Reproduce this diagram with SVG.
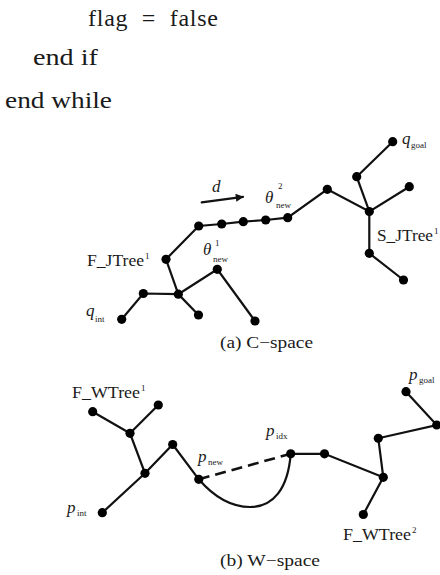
<svg xmlns="http://www.w3.org/2000/svg" width="440" height="575" viewBox="0 0 440 575">
<style>
.code{font-family:"Liberation Serif","DejaVu Serif",serif;font-size:24px;fill:#1a1a1a}
.lbl{font-family:"Liberation Serif","DejaVu Serif",serif;font-size:16px;fill:#1a1a1a}
.cap{font-family:"Liberation Serif","DejaVu Serif",serif;font-size:16px;fill:#1a1a1a}
.it{font-family:"Liberation Serif","DejaVu Serif",serif;font-style:italic;font-size:17px;fill:#1a1a1a}
.sub{font-family:"Liberation Serif","DejaVu Serif",serif;font-size:9px;fill:#1a1a1a}
.edge{stroke:#111;stroke-width:2.2;fill:none;stroke-linecap:round}
.dash{stroke:#111;stroke-width:2.6;fill:none;stroke-dasharray:11 6}
.node circle{fill:#000}
</style>
<defs>
<marker id="ah" viewBox="0 0 10 10" refX="9" refY="5" markerWidth="10" markerHeight="8" markerUnits="userSpaceOnUse" orient="auto">
<path d="M0,0 L10,5 L0,10 z" fill="#111"/>
</marker>
</defs>
<rect width="440" height="575" fill="#fff"/>
<g id="code">
<text class="code" x="88" y="26" textLength="130" lengthAdjust="spacing" xml:space="preserve">flag  =  false</text>
<text class="code" x="33" y="65" textLength="65" lengthAdjust="spacingAndGlyphs">end if</text>
<text class="code" x="5" y="108" textLength="107" lengthAdjust="spacingAndGlyphs">end while</text>
</g>
<g id="connectors">
<polyline class="edge" points="121.7,319.3 143.3,293.5 178.3,294.2 198.5,315"/>
<polyline class="edge" points="178.3,294.2 166,259.3 198.7,226 221.7,224 243.3,221.7 265.7,220 287.7,217.7 327.3,189.3 369.3,211.5 356.7,176.7 392.7,141.7"/>
<polyline class="edge" points="178.3,294.2 217.3,269.3 255,321"/>
<polyline class="edge" points="409.3,186.7 369.3,211.5 369.3,253.3 403.5,280"/>
<line class="edge" x1="201.7" y1="202.3" x2="243" y2="196.8" marker-end="url(#ah)" stroke-width="1.4"/>
<polyline class="edge" points="102.3,512.7 145,473.3 130,433.3 92.7,411.7"/>
<polyline class="edge" points="130,433.3 158.3,405"/>
<polyline class="edge" points="145,473.3 172.7,444.5 198.8,479.3"/>
<line class="dash" x1="198.8" y1="479.3" x2="290.7" y2="453.8"/>
<path class="edge" d="M198.8,479.3 C214,497 231,507 250,507 C273,507 288,489 290.7,453.8"/>
<polyline class="edge" points="290.7,453.8 324.5,453.8 383.3,477.3 363.3,514.5"/>
<polyline class="edge" points="383.3,477.3 378.3,438.3 436.7,425 406,391.7"/>
</g>
<g id="nodes-a" class="node">
<g id="a_qint"><circle cx="121.7" cy="319.3" r="4.6"/></g>
<g id="a_n1"><circle cx="143.3" cy="293.5" r="4.6"/></g>
<g id="a_c"><circle cx="178.3" cy="294.2" r="4.6"/></g>
<g id="a_n2"><circle cx="198.5" cy="315" r="4.6"/></g>
<g id="a_fj"><circle cx="166" cy="259.3" r="4.6"/></g>
<g id="a_t1"><circle cx="217.3" cy="269.3" r="4.6"/></g>
<g id="a_n3"><circle cx="255" cy="321" r="4.6"/></g>
<g id="a_k1"><circle cx="198.7" cy="226" r="4.6"/></g>
<g id="a_k2"><circle cx="221.7" cy="224" r="4.6"/></g>
<g id="a_k3"><circle cx="243.3" cy="221.7" r="4.6"/></g>
<g id="a_k4"><circle cx="265.7" cy="220" r="4.6"/></g>
<g id="a_t2"><circle cx="287.7" cy="217.7" r="4.6"/></g>
<g id="a_k5"><circle cx="327.3" cy="189.3" r="4.6"/></g>
<g id="a_s"><circle cx="369.3" cy="211.5" r="4.6"/></g>
<g id="a_s1"><circle cx="356.7" cy="176.7" r="4.6"/></g>
<g id="a_qg"><circle cx="392.7" cy="141.7" r="4.6"/></g>
<g id="a_s2"><circle cx="409.3" cy="186.7" r="4.6"/></g>
<g id="a_s3"><circle cx="369.3" cy="253.3" r="4.6"/></g>
<g id="a_s4"><circle cx="403.5" cy="280" r="4.6"/></g>
</g>
<g id="nodes-b" class="node">
<g id="b_pint"><circle cx="102.3" cy="512.7" r="4.6"/></g>
<g id="b_c"><circle cx="145" cy="473.3" r="4.6"/></g>
<g id="b_m"><circle cx="130" cy="433.3" r="4.6"/></g>
<g id="b_l"><circle cx="92.7" cy="411.7" r="4.6"/></g>
<g id="b_r"><circle cx="158.3" cy="405" r="4.6"/></g>
<g id="b_k"><circle cx="172.7" cy="444.5" r="4.6"/></g>
<g id="b_pnew"><circle cx="198.8" cy="479.3" r="4.6"/></g>
<g id="b_pidx"><circle cx="290.7" cy="453.8" r="4.6"/></g>
<g id="b_k2"><circle cx="324.5" cy="453.8" r="4.6"/></g>
<g id="b_j"><circle cx="383.3" cy="477.3" r="4.6"/></g>
<g id="b_ft"><circle cx="363.3" cy="514.5" r="4.6"/></g>
<g id="b_u"><circle cx="378.3" cy="438.3" r="4.6"/></g>
<g id="b_v"><circle cx="436.7" cy="425" r="4.6"/></g>
<g id="b_pg"><circle cx="406" cy="391.7" r="4.6"/></g>
</g>
<g id="labels">
<text class="lbl" x="87" y="266" textLength="57" lengthAdjust="spacingAndGlyphs">F_JTree</text><text class="sub" x="145" y="259">1</text>
<text class="lbl" x="377" y="241" textLength="56" lengthAdjust="spacingAndGlyphs">S_JTree</text><text class="sub" x="434" y="234">1</text>
<text class="it" x="86" y="316">q</text><text class="sub" x="95" y="322">int</text>
<text class="it" x="402" y="144">q</text><text class="sub" x="411" y="148">goal</text>
<text class="it" x="212" y="192">d</text>
<text class="it" x="265" y="203">θ</text><text class="sub" x="278" y="189">2</text><text class="sub" x="276" y="208">new</text>
<text class="it" x="203" y="255">θ</text><text class="sub" x="215" y="246">1</text><text class="sub" x="213" y="262">new</text>
<text class="cap" x="220" y="348" textLength="93" lengthAdjust="spacingAndGlyphs">(a) C−space</text>
<text class="lbl" x="72" y="398" textLength="68" lengthAdjust="spacingAndGlyphs">F_WTree</text><text class="sub" x="141" y="391">1</text>
<text class="it" x="67" y="513">p</text><text class="sub" x="77" y="516">int</text>
<text class="it" x="198" y="462">p</text><text class="sub" x="208" y="465">new</text>
<text class="it" x="266" y="436">p</text><text class="sub" x="276" y="439">idx</text>
<text class="it" x="409" y="380">p</text><text class="sub" x="419" y="383">goal</text>
<text class="lbl" x="343" y="540" textLength="68" lengthAdjust="spacingAndGlyphs">F_WTree</text><text class="sub" x="412" y="533">2</text>
<text class="cap" x="220" y="566" textLength="100" lengthAdjust="spacingAndGlyphs">(b) W−space</text>
</g>
</svg>
